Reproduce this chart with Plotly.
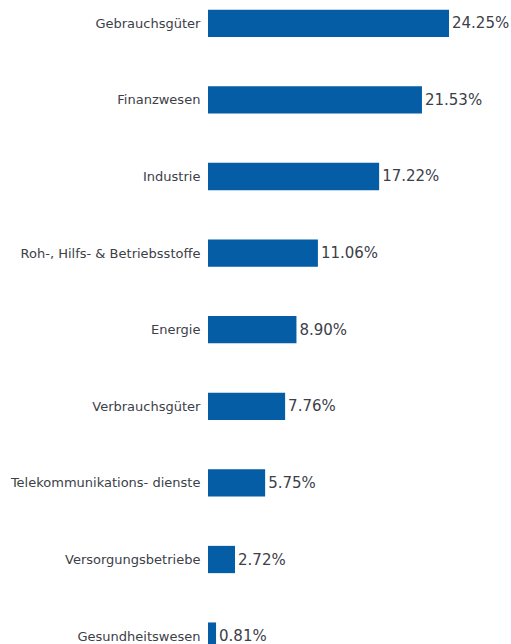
import plotly.graph_objects as go

categories = ["Gebrauchsgüter", "Finanzwesen", "Industrie", "Roh-, Hilfs- & Betriebsstoffe",
              "Energie", "Verbrauchsgüter", "Telekommunikations- dienste",
              "Versorgungsbetriebe", "Gesundheitswesen"]
values = [24.25, 21.53, 17.22, 11.06, 8.90, 7.76, 5.75, 2.72, 0.81]
value_labels = ["24.25%", "21.53%", "17.22%", "11.06%", "8.90%", "7.76%", "5.75%", "2.72%", "0.81%"]

positions = list(range(len(categories)))

fig = go.Figure(go.Bar(
    x=values, y=positions, orientation="h",
    width=0.356,
    marker=dict(color="#045da5", line=dict(width=0)),
    text=value_labels, textposition="outside", cliponaxis=False,
    constraintext="none",
    textfont=dict(family="DejaVu Sans", size=15, color="#3c4048"),
    hoverinfo="skip",
))

fig.update_layout(
    width=511, height=644,
    margin=dict(l=208, r=0, t=0, b=0, autoexpand=False),
    paper_bgcolor="white", plot_bgcolor="white",
    showlegend=False,
    font=dict(family="DejaVu Sans", size=13, color="#3c4048"),
    xaxis=dict(range=[0, 30.49], visible=False, fixedrange=True),
    yaxis=dict(range=[8.103, -0.304], tickmode="array", tickvals=positions,
               ticktext=categories, showgrid=False, zeroline=False, showline=False,
               ticks="outside", ticklen=4, tickcolor="rgba(0,0,0,0)", automargin=False,
               ticklabeloverflow="allow", fixedrange=True,
               tickfont=dict(family="DejaVu Sans", size=13, color="#3c4048")),
)

fig.write_html(
    "out.html",
    config={"displayModeBar": False, "staticPlot": True},
    post_script="document.body.style.margin='0';document.body.style.overflow='hidden';",
)
